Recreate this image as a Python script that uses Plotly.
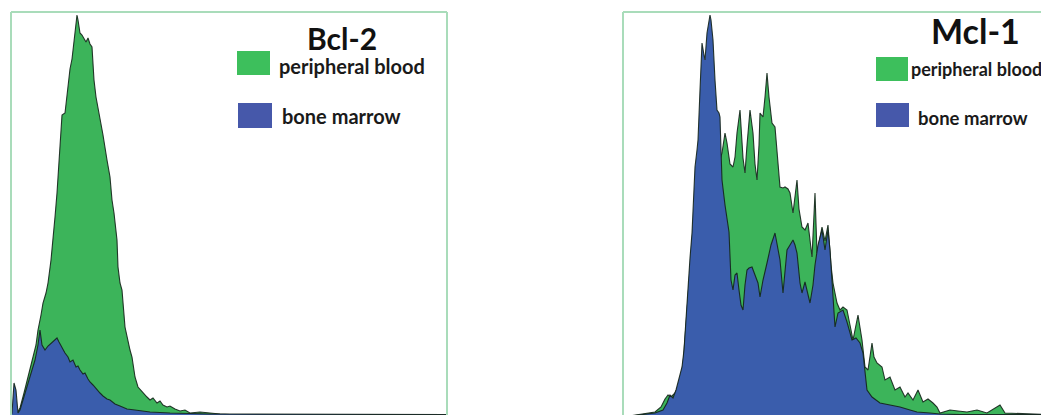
import plotly.graph_objects as go

# ---------------- data ----------------
# Bcl-2 panel: fluorescence channel vs. relative cell count
bcl2_pb_x = [0, 5, 7, 10, 14, 17, 20, 23, 26, 28, 31, 33, 36, 38, 41, 43, 45, 47, 50, 52,
             55, 57, 60, 62, 63, 65, 67, 68, 70, 72, 75, 76, 78, 80, 82, 84, 86, 90, 93, 97,
             100, 102, 104, 107, 108, 110, 112, 115, 117, 120, 122, 125, 128, 133, 137, 140, 143, 147, 150, 153,
             157, 160, 165, 170, 175, 180, 190, 200, 210, 230, 437]
bcl2_pb = [0, 0.5, 1, 2.25, 6, 9.25, 11.75, 15, 18, 21.75, 25.5, 28.5, 31, 33.5, 39.25, 44, 50, 56, 69.25, 75.5,
           76, 81, 87, 89.5, 92, 96.75, 100.5, 99.25, 96, 95.5, 94.25, 93.75, 94.75, 93.25, 92.5, 84.25, 80, 75, 70.5, 64.25,
           60, 54.25, 51, 44.25, 37.5, 33.5, 31.75, 22.5, 20, 16.75, 15, 10, 7.5, 6, 5, 4.25, 4.75, 3.5, 4, 3,
           2.5, 2.75, 2, 1.5, 1.75, 1, 1.25, 1, 0.75, 0.5, 0.5]

bcl2_bm_x = [0, 2, 4, 6, 8, 10, 13, 16, 20, 23, 25, 28, 30, 32, 35, 38, 41, 44, 47, 49,
             52, 55, 58, 60, 63, 66, 68, 70, 73, 75, 78, 80, 83, 87, 90, 93, 97, 100, 105, 110,
             117, 125, 140, 160, 200, 437]
bcl2_bm = [0, 1, 8.5, 6.75, 1, 1.75, 4.25, 6.75, 10, 12.25, 14.25, 18, 21.75, 18, 16.75, 17.75, 18.5, 19.25, 19.75, 18.75,
           17.25, 16, 15, 13.75, 14.25, 12.5, 12.75, 11.75, 10.75, 11, 9.5, 8.75, 8, 6.75, 6, 5.25, 4.5, 4.25, 3.25, 2.75,
           2, 1.75, 1.25, 1, 0.75, 0.6]

# Mcl-1 panel
mcl1_pb_x = [0, 22, 32, 38, 42, 45, 48, 52, 55, 60, 65, 70, 75, 80, 85, 90, 94, 97, 99, 102,
             104, 107, 110, 112, 114, 117, 120, 122, 124, 127, 130, 132, 134, 136, 137, 140, 142, 144, 146, 149,
             152, 155, 157, 160, 162, 165, 167, 170, 172, 174, 176, 179, 182, 185, 189, 192, 194, 197, 199, 202,
             205, 208, 210, 214, 217, 220, 224, 227, 230, 235, 239, 242, 245, 249, 251, 254, 259, 262, 267, 272,
             277, 282, 285, 290, 295, 300, 305, 310, 314, 317, 327, 335, 344, 354, 364, 377, 382, 426]
mcl1_pb = [0, 0.75, 1.25, 2.5, 4.5, 5.5, 5, 6, 7.5, 13, 30, 48, 64, 78, 80, 78, 70, 64.25, 66, 71,
           68.5, 63.25, 62.5, 65, 71, 76.75, 64.75, 61, 68, 76.75, 71, 63.25, 59.25, 68, 76, 75, 80, 86, 80, 73.5,
           72.5, 63, 57.5, 57.25, 57.5, 57, 56, 51, 55, 59.25, 52, 47.5, 46.75, 48.5, 40, 56, 41, 45, 47.5, 44,
           48, 38, 33.5, 28.5, 26.75, 27.5, 26.75, 23, 19.25, 25.5, 19.25, 12.5, 11.75, 18.5, 15, 13.5, 12.5, 9.25, 10, 6.75,
           7.5, 5, 6, 4.25, 6.75, 3.75, 4.5, 3.5, 2.5, 1, 1.75, 1.5, 1.25, 1.75, 1, 3, 1, 0.6]

mcl1_bm_x = [0, 22, 32, 40, 44, 47, 50, 53, 55, 57, 59, 61, 62, 64, 65, 67, 69, 71, 72, 74,
             75, 77, 79, 81, 82, 84, 86, 87, 88, 90, 92, 94, 96, 97, 98, 99, 102, 104, 106, 108,
             110, 112, 114, 116, 118, 120, 122, 124, 126, 129, 132, 135, 137, 140, 144, 148, 152, 155, 157, 160,
             162, 164, 167, 170, 172, 174, 177, 179, 182, 185, 187, 190, 192, 195, 199, 202, 205, 207, 209, 212,
             215, 220, 224, 229, 233, 237, 240, 242, 244, 249, 257, 267, 277, 287, 294, 307, 317, 337, 426]
mcl1_bm = [0, 0.75, 1, 1.75, 3.5, 5.5, 4.75, 6.75, 8.5, 10.5, 12.5, 16.75, 21, 29.25, 33.5, 39.75, 46, 56.75, 62.5, 66.75,
           69.25, 81.75, 93.5, 90.5, 89.25, 96, 99.75, 100.5, 99.25, 94.25, 84.25, 76.75, 76, 75, 66.75, 59.25, 53, 50, 46.25, 34.25,
           31.75, 35.5, 36, 31.75, 28, 26.75, 33, 36.75, 37.25, 37.5, 35.5, 33.5, 30, 34.25, 38.5, 43, 46, 42.25, 39.25, 31,
           36.75, 41.75, 43, 44.25, 43, 41, 33.5, 31, 33.75, 30.5, 28.5, 33, 38, 43, 46.75, 41.75, 46.75, 41.75, 35, 22.5,
           26, 26.75, 23.75, 19.25, 19.75, 18.5, 16, 10.5, 6.75, 5, 3.5, 3, 2.5, 1.75, 1.25, 1, 0.75, 0.6, 0.6]

panel_titles = ["Bcl-2", "Mcl-1"]
series_names = ["peripheral blood", "bone marrow"]

# ---------------- styling ----------------
OFF = 8                      # default page body margin
W, H = 1049 - OFF, 415 - OFF
GREEN = "#3cb45a"
BLUE = "#3a5dac"
GREEN_KEY = "#3dbf5c"
BLUE_KEY = "#4658aa"
OUTLINE = "rgba(20,35,25,0.9)"
FRAME = "#a9dcba"
FONT = "Lato"


def px(x):
    return (x - OFF) / W


def py(y):
    return 1 - (y - OFF) / H


fig = go.Figure()

panels = [
    dict(xa="x", ya="y", pb=(bcl2_pb_x, bcl2_pb), bm=(bcl2_bm_x, bcl2_bm)),
    dict(xa="x2", ya="y2", pb=(mcl1_pb_x, mcl1_pb), bm=(mcl1_bm_x, mcl1_bm)),
]
for p in panels:
    fig.add_trace(go.Scatter(x=p["pb"][0], y=p["pb"][1], mode="lines", fill="tozeroy",
                             fillcolor=GREEN, line=dict(color=OUTLINE, width=1.1),
                             xaxis=p["xa"], yaxis=p["ya"], name=series_names[0],
                             showlegend=False, hoverinfo="skip"))
    fig.add_trace(go.Scatter(x=p["bm"][0], y=p["bm"][1], mode="lines", fill="tozeroy",
                             fillcolor=BLUE, line=dict(color=OUTLINE, width=1.1),
                             xaxis=p["xa"], yaxis=p["ya"], name=series_names[1],
                             showlegend=False, hoverinfo="skip"))

ax_common = dict(showgrid=False, zeroline=False, showticklabels=False, ticks="", showline=False)
yrange = [0.5, 0.5 + H / 4]
fig.update_layout(
    width=W, height=H,
    margin=dict(l=0, r=0, t=0, b=0),
    paper_bgcolor="white", plot_bgcolor="white",
    xaxis=dict(domain=[px(10), px(447)], range=[0, 437], **ax_common),
    yaxis=dict(domain=[0, 1], range=yrange, **ax_common),
    xaxis2=dict(domain=[px(623), 1], range=[0, 426], anchor="y2", **ax_common),
    yaxis2=dict(domain=[0, 1], range=yrange, anchor="x2", **ax_common),
)

shapes = []
# panel frames (left, top, right)
for (l, r, right_edge) in [(11, 447, True), (623, 1049, False)]:
    shapes.append(dict(type="line", xref="paper", yref="paper", x0=px(l), x1=px(l), y0=py(12), y1=-0.05,
                       line=dict(color=FRAME, width=2)))
    shapes.append(dict(type="line", xref="paper", yref="paper", x0=px(l), x1=px(r), y0=py(12), y1=py(12),
                       line=dict(color=FRAME, width=2)))
    if right_edge:
        shapes.append(dict(type="line", xref="paper", yref="paper", x0=px(r), x1=px(r), y0=py(12), y1=-0.05,
                           line=dict(color=FRAME, width=2)))

# legend keys
keys = [
    (237, 270, 51, 75, GREEN_KEY), (238, 272, 103, 128, BLUE_KEY),
    (876, 908, 57, 81, GREEN_KEY), (876, 909, 103, 127, BLUE_KEY),
]
for x0, x1, y0, y1, c in keys:
    shapes.append(dict(type="rect", xref="paper", yref="paper", x0=px(x0), x1=px(x1), y0=py(y1), y1=py(y0),
                       fillcolor=c, line=dict(width=0), layer="above"))
fig.update_layout(shapes=shapes)

ann = []
ann.append(dict(text=panel_titles[0], x=px(342), y=py(38), xref="paper", yref="paper", showarrow=False,
                xanchor="center", yanchor="middle", font=dict(family=FONT, size=30, color="#111", weight="bold")))
ann.append(dict(text=panel_titles[1], x=px(975), y=py(30), xref="paper", yref="paper", showarrow=False,
                xanchor="center", yanchor="middle", font=dict(family=FONT, size=34, color="#111", weight="bold")))
labels = [
    (series_names[0], 277, 66, 20), (series_names[1], 280, 116, 20),
    (series_names[0], 909, 69, 18), (series_names[1], 916, 118, 18.5),
]
for t, x, y, s in labels:
    ann.append(dict(text=t, x=px(x), y=py(y), xref="paper", yref="paper", showarrow=False,
                    xanchor="left", yanchor="middle", font=dict(family=FONT, size=s, color="#1a1a1a", weight="bold")))
fig.update_layout(annotations=ann)

fig.write_html("out.html")
